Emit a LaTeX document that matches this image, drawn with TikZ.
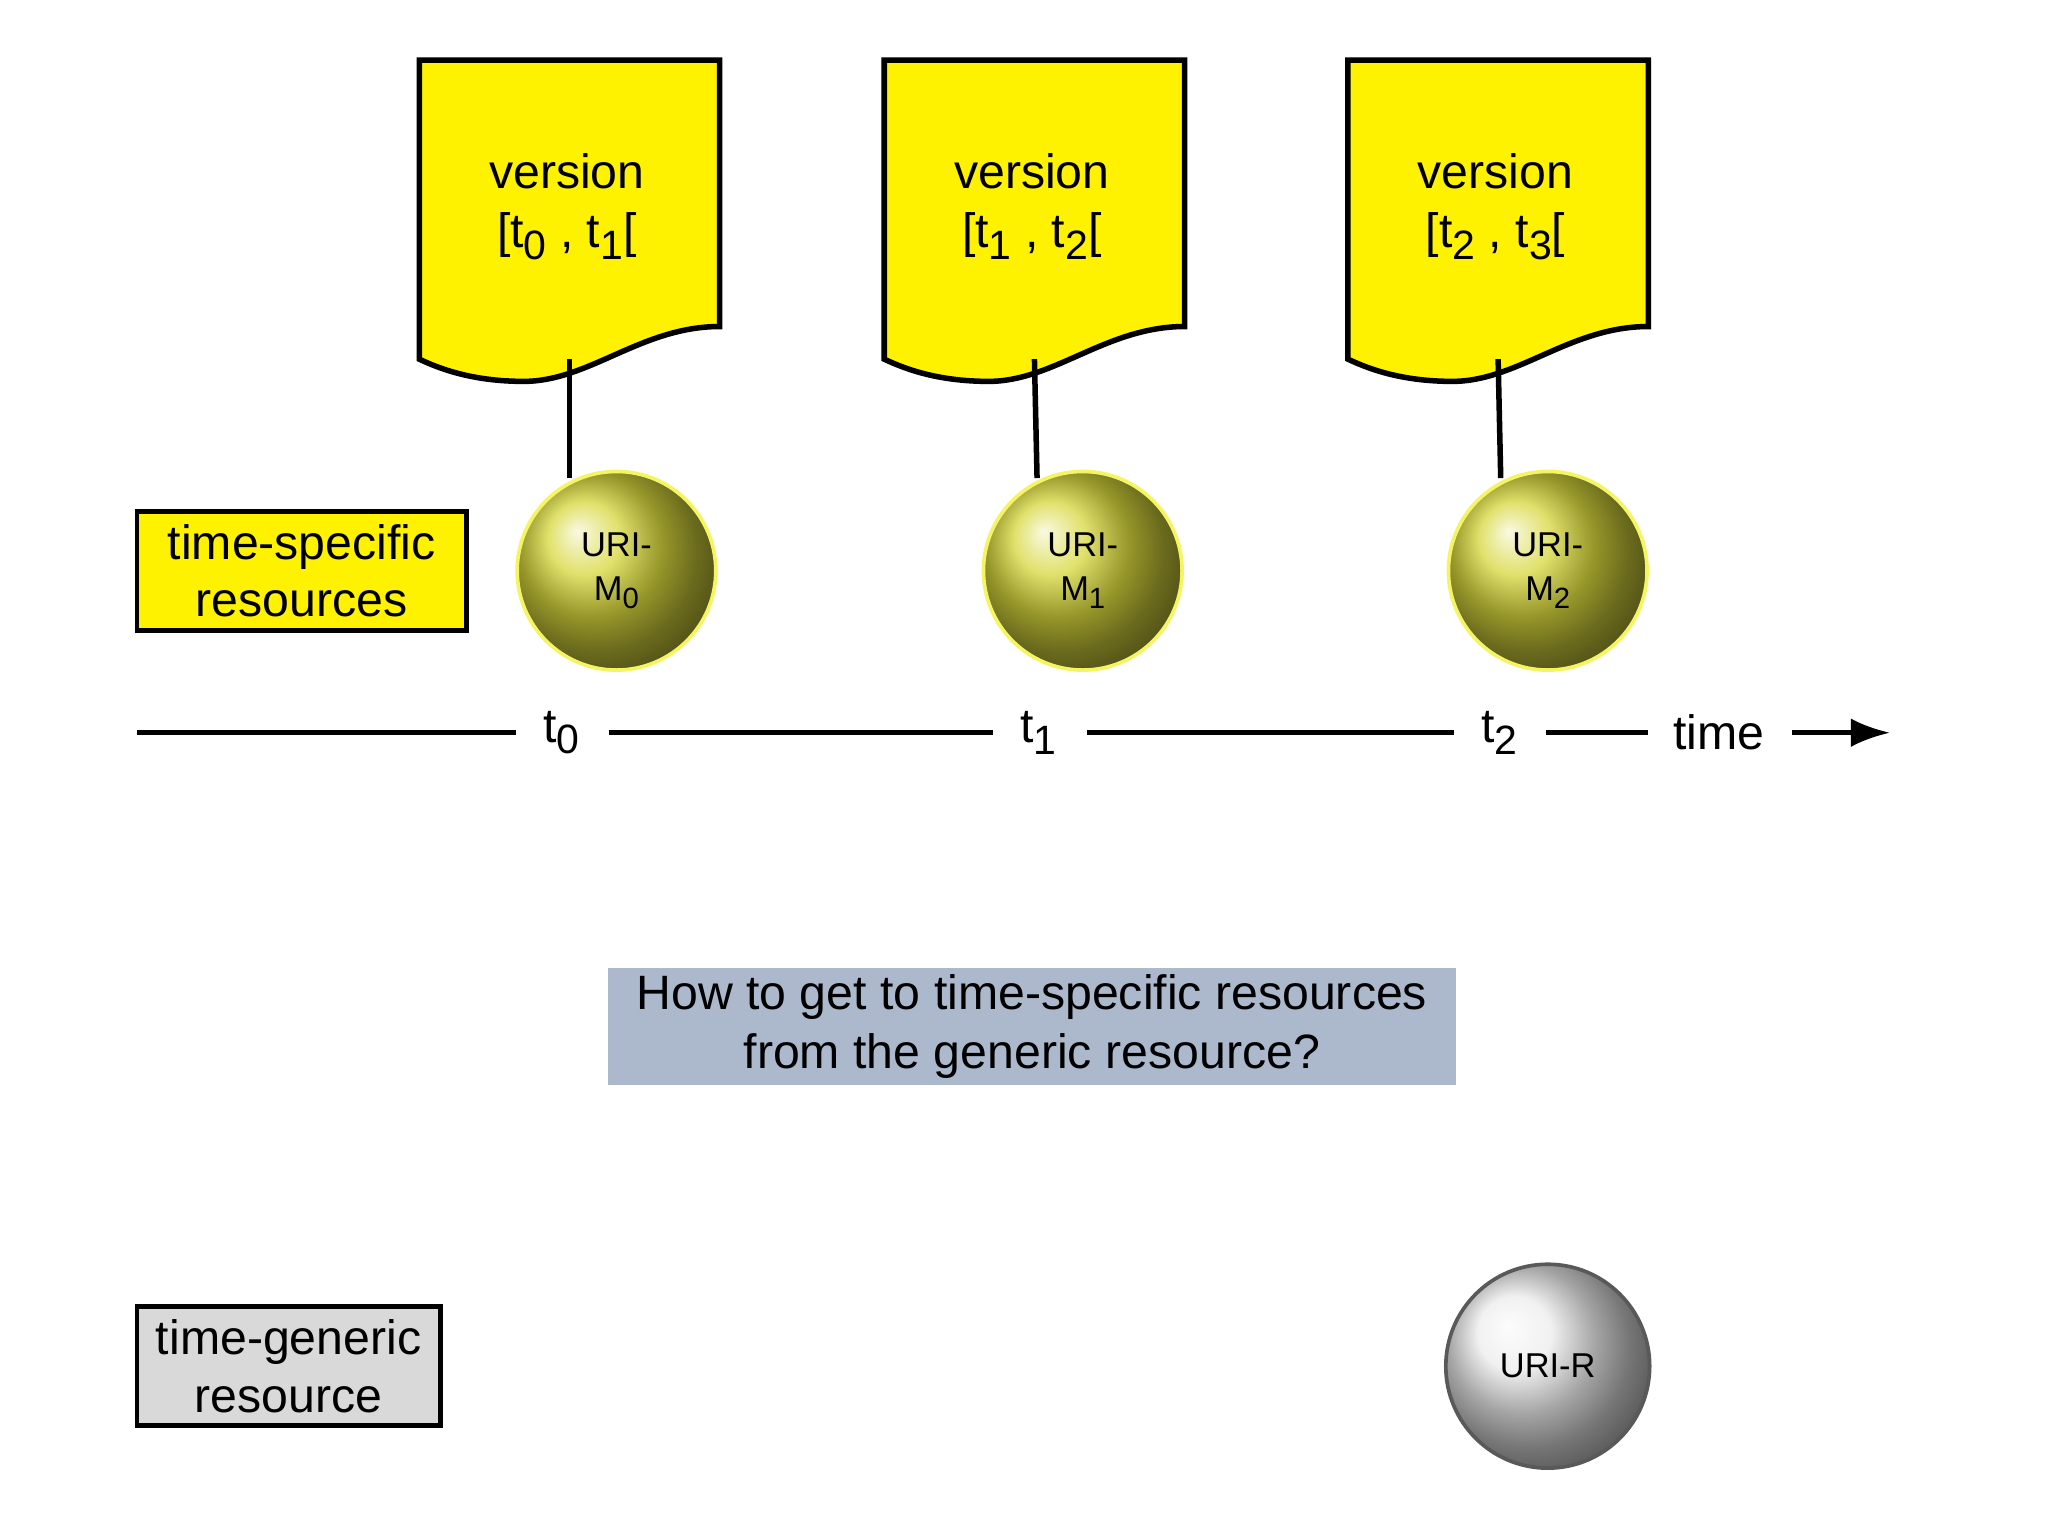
\documentclass[tikz,border=0pt]{standalone}
\usepackage{fontspec}
\setmainfont{Liberation Sans}
\usetikzlibrary{arrows.meta}
\newcommand{\sbx}[1]{\raisebox{-0.45ex}{\fontsize{0.85em}{1em}\selectfont #1}}
\begin{document}
\begin{tikzpicture}[x=0.01cm,y=-0.01cm,
  doc/.style={draw=black,line width=1.2pt,fill=yellow},
  lbl/.style={draw=black,line width=1pt,align=center,font=\fontsize{10.5}{12.5}\selectfont,inner sep=0pt},
  ball/.style={circle,minimum size=1.52cm,shading=ball,ball color={rgb,255:red,215;green,215;blue,60},draw={rgb,255:red,245;green,245;blue,100},line width=0.8pt,align=center,font=\fontsize{7.5}{9.5}\selectfont,inner sep=0pt},
  txt/.style={font=\fontsize{10.5}{13}\selectfont,align=center,inner sep=0pt}]
\useasboundingbox (0,0) rectangle (1568,1176);
\foreach \x/\a/\b/\i in {321/0/1/0,677/1/2/1,1032/2/3/2}{
  \draw[doc] (\x,46) -- (\x+230,46) -- (\x+230,250) .. controls (\x+170,250) and (\x+130,292) .. (\x+80,292) .. controls (\x+40,292) and (\x+15,282) .. (\x,275) -- cycle;
  \node[txt] (v\i) at (\x+113,158) {version\\{}[t\sbx{\a} , t\sbx{\b}[};
  \coordinate (d\i) at (\x+115,275);
}
\node[ball] (m0) at (472,437) {URI-\\M\sbx{0}};
\node[ball] (m1) at (829,437) {URI-\\M\sbx{1}};
\node[ball] (m2) at (1185,437) {URI-\\M\sbx{2}};
\draw[line width=1.2pt] (d0) -- (436,366);
\draw[line width=1.2pt] (d1) -- (794,366);
\draw[line width=1.2pt] (d2) -- (1149,366);
\node[lbl,fill=yellow,minimum width=2.52cm,minimum height=0.91cm] (ts) at (231,437) {time-specific\\resources};
\node[lbl,fill=gray!30,minimum width=2.32cm,minimum height=0.91cm] (tg) at (221,1046) {time-generic\\resource};
\node[ball,minimum size=1.56cm,ball color=gray!15,draw=gray!70!black] (r) at (1185,1046) {URI-R};
\coordinate (s) at (105,561);
\node[txt] (t0) at (430,561) {t\sbx{0}};
\node[txt] (t1) at (795,561) {t\sbx{1}};
\node[txt] (t2) at (1148,561) {t\sbx{2}};
\node[txt] (tm) at (1316,561) {time};
\coordinate (e) at (1447,561);
\draw[line width=1pt] (s) -- (395,561) (466,561) -- (760,561) (832,561) -- (1113,561) (1184,561) -- (1262,561);
\draw[line width=1pt,-{Latex[length=0.3cm,width=0.22cm]}] (1372,561) -- (e);
\node[txt,fill={rgb,255:red,172;green,184;blue,204},minimum width=6.49cm,minimum height=0.89cm] (q) at (790,786) {How to get to time-specific resources\\from the generic resource?};
\end{tikzpicture}
\end{document}
